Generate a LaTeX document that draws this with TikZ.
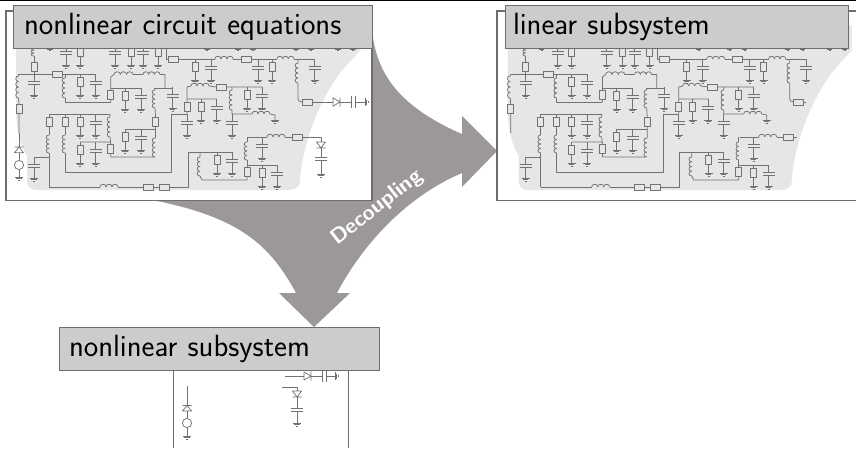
\documentclass[tikz,border=0pt]{standalone}
\definecolor{arrowc}{HTML}{9C9899}
\definecolor{blobc}{HTML}{E6E6E6}
\definecolor{titlec}{HTML}{CCCCCC}
\definecolor{linec}{HTML}{727272}
\definecolor{framec}{HTML}{6E6E6E}
\tikzset{
  w/.style={draw=linec,line width=0.75pt,line join=round},
  framest/.style={draw=framec,line width=1.5pt},
  titlest/.style={fill=titlec,draw=framec,line width=1pt,anchor=center,font=\sffamily\fontsize{30.7}{36}\selectfont,text=black,align=left,minimum height=43pt,inner sep=0pt,outer sep=0pt}
}
% wires-level elements, all in reference pixels
\newcommand{\cgnd}[2]{\draw[w] (#1-4,#2) -- (#1+4,#2) (#1-2.6,#2+1.6) -- (#1+2.6,#2+1.6) (#1-1,#2+3.2) -- (#1+1,#2+3.2);}
\newcommand{\cvres}[2]{\draw[w,fill=blobc] (#1-3,#2-4.7) rectangle (#1+3,#2+4.7);}
\newcommand{\chres}[2]{\draw[w,fill=blobc] (#1-5,#2-3) rectangle (#1+5,#2+3);}
\newcommand{\cplates}[2]{\draw[w] (#1-6,#2-1.5) -- (#1+6,#2-1.5) (#1-6,#2+1.5) -- (#1+6,#2+1.5);}
\newcommand{\resg}[2]{\draw[w] (#1,#2) -- (#1,#2+21); \cvres{#1}{#2+8}\cgnd{#1}{#2+21}}
\newcommand{\capg}[2]{\draw[w] (#1,#2) -- (#1,#2+7) (#1,#2+10) -- (#1,#2+21); \cplates{#1}{#2+8.5}\cgnd{#1}{#2+21}}
% vertical inductor x, y1, y2
\newcommand{\vind}[3]{\pgfmathsetmacro{\hh}{(#3-#2)/4}
  \foreach \k in {0,1,2,3}{\draw[w] (#1,{#2+\k*\hh}) .. controls (#1-3.6,{#2+\k*\hh-0.5}) and (#1-3.6,{#2+(\k+1)*\hh+0.5}) .. (#1,{#2+(\k+1)*\hh});}}
% horizontal inductor x1, x2, y
\newcommand{\hind}[3]{\pgfmathsetmacro{\hh}{(#2-#1)/3}
  \foreach \k in {0,1,2}{\draw[w] ({#1+\k*\hh},#3) .. controls ({#1+\k*\hh-0.5},#3-3.6) and ({#1+(\k+1)*\hh+0.5},#3-3.6) .. ({#1+(\k+1)*\hh},#3);}}
\newcommand{\lincirc}{
  % top row
  \foreach \x in {50,207,238,253,296,311,338,353}{\draw[w] (\x,44) -- (\x,47.5); \cgnd{\x}{47.5}}
  \capg{66}{44}\resg{80}{44}\capg{115}{44}\resg{131}{44}\capg{143}{44}\resg{158}{44}
  % row at y=59
  \draw[w] (166,44) -- (166,59) -- (168,59) (178,59) -- (215,59) (233,59) -- (241,59) (251,59) -- (277,59) (294,59) -- (314.5,59);
  \chres{173}{59}\hind{215}{233}{59}\chres{246}{59}\hind{277}{294}{59}
  \resg{195}{59}\capg{211}{59}\capg{258}{59}\resg{272}{59}\capg{314.5}{59}
  \draw[w] (298,59) -- (298,63) (298,83) -- (298,99) -- (299,101) -- (302,102);
  \vind{298}{63}{83}\chres{307}{102}
  % left top
  \vind{34}{44}{56}\draw[w] (34,56) -- (34,74);\cvres{34}{67}
  \draw[w] (19,74) -- (52,74) (62,74) -- (95.5,74);
  \chres{57}{74}\capg{34}{74}\resg{80}{74}\capg{95.5}{74}
  \draw[w] (18.5,74) -- (18.5,76) (18.5,98) -- (19,104) (19,114) -- (19,133);
  \vind{18.5}{76}{98}\cvres{19}{109}
  \draw[w] (65,74) -- (65,78) (65,98) -- (65,102) -- (110.7,102);
  \vind{65}{78}{98}
  % inductors y=74
  \draw[w] (110.7,102) -- (110.7,77) -- (114,74.5) (133,74.5) -- (143,74.5) (160,74.5) -- (165,74.5) -- (165,88);
  \hind{114}{133}{74.5}\hind{143}{160}{74.5}
  \cvres{110.7}{95}
  \draw[w] (110.7,88) -- (141,88) (154,88) -- (172.7,88);
  \resg{125}{88}\capg{141}{88}\capg{172.7}{87}
  \draw[w] (155,88) -- (155,90) (155,108) -- (155.5,117) (155.5,127) -- (155.5,138) (155,157) -- (110.7,157) -- (110.7,154);
  \vind{155}{90}{108}\cvres{155.5}{122}\vind{155}{138}{157}
  \draw[w] (125,129) -- (155.5,129);
  \resg{125}{129}\capg{141}{129}
  % block y=114
  \draw[w] (49,114) -- (110,114);
  \draw[w] (49,114) -- (49,135) (49,153) -- (49,187);
  \cvres{49}{122}\vind{49}{135}{153}
  \draw[w] (65,114) -- (65,135) (65,153) -- (65,172) -- (171.7,172) -- (171.7,114) -- (187,114);
  \cvres{65}{122}\vind{65}{135}{153}
  \resg{80}{114}\capg{95.7}{114}
  \draw[w] (110,114) -- (110,117) (110,137) -- (110.7,144) (80,142) -- (110.5,142);
  \vind{110}{117}{137}
  \cvres{110.7}{149}
  \resg{80}{142}\capg{95.7}{142}
  \draw[w] (34,157) -- (49,157);
  \capg{34}{157}
  % bottom wire
  \draw[w] (49,187) -- (100,187) (118,187) -- (143,187) (153,187) -- (159,187) (169,187) -- (188,187) -- (188,152) -- (232,152);
  \hind{100}{118}{187}\chres{148}{187}\chres{164}{187}
  \draw[w] (200,152) -- (200,157) (200,176) -- (202,180) -- (247,180) -- (247,177);
  \vind{200}{157}{176}
  \resg{217}{152}\capg{232}{152}
  % lower right
  \draw[w] (247,137) -- (247,142) (247,160) -- (247,167) (248,137) -- (267,137) (285,137) -- (292,137) (247,165) -- (277,165);
  \vind{247}{142}{160}\cvres{247}{172}
  \hind{267}{285}{137}\chres{297}{137}
  \capg{262}{137}\resg{262}{165}\capg{277}{165}
  % second row right
  \draw[w] (187,114) -- (187,87) -- (191,86) (209,86) -- (216,87) (226,87) -- (262,87) (187,99) -- (216.7,99);
  \hind{191}{209}{86}\chres{221}{87}\cvres{187}{107}
  \capg{187}{114}
  \resg{247}{87}\capg{262}{87}\resg{201}{99}\capg{216.7}{99}
  \draw[w] (232,87) -- (232,90) (232,110) -- (232,114) -- (252,114) (270,114) -- (275,115) -- (275,120);
  \vind{232}{90}{110}\hind{252}{270}{114}\cgnd{275}{120}
  \capg{232}{114}
}
\begin{document}
\begin{tikzpicture}[x=1pt,y=-1pt]
\useasboundingbox (0,0) rectangle (856,448);
\fill[white] (0,0) rectangle (856,448);
\fill[black] (0,0) rectangle (856,1.2);
% big arrow
\fill[arrowc] (372,30) .. controls (376,70) and (395,105) .. (462,134) -- (462,116) -- (497,151) -- (462,187) -- (462,173) .. controls (410,195) and (365,240) .. (337,293) -- (350,293) -- (314,327) -- (279,293) -- (296,293) .. controls (270,245) and (240,218) .. (157,201) -- (200,100) -- cycle;
\node[rotate=38,text=white,font=\sffamily\bfseries\fontsize{21.5}{25}\selectfont,inner sep=0pt] (dec) at (377,208) {Decoupling};
% left panel
\draw[framest,fill=white] (6,11) rectangle (372,200.5);
\fill[blobc] (16,25) -- (16,105) .. controls (16,125) and (18,140) .. (27,156) -- (27,180) .. controls (27,187) and (30,190) .. (38,190) -- (285,190) .. controls (296,190) and (300,188) .. (300,180) .. controls (302,150) and (315,110) .. (335,80) .. controls (342,69) and (352,60) .. (360,50) -- (360,25) -- cycle;
\lincirc
\draw[w] (19,133) -- (19,147) (19,152.7) -- (19,160.5) (19,169.5) -- (19,177);
\draw[w] (14.5,147) -- (23.5,147) (19,147) -- (14.5,152.7) -- (23.5,152.7) -- cycle;
\draw[w] (19,165) circle[radius=4.6pt];
\cgnd{19}{177}
\draw[w] (312,102) -- (333,102) (340,102) -- (351.7,102) (355.7,102) -- (365,102);
\draw[w] (333,97.8) -- (333,106.2) -- (340,102) -- cycle (340,97.5) -- (340,106.5);
\draw[w] (351.7,96) -- (351.7,108) (355.7,96) -- (355.7,108);
\draw[w] (365,98) -- (365,106) (366.6,99.5) -- (366.6,104.5) (368,101) -- (368,103);
\draw[w] (302,137) -- (321,137) -- (321,142) (321,148) -- (321,157.5) (321,160.5) -- (321,174);
\draw[w] (316.5,142) -- (325.5,142) -- (321,148) -- cycle (316.5,148) -- (325.5,148);
\cplates{321}{159}\cgnd{321}{174}
\node[titlest,text width=338pt,minimum width=359pt,xshift=0.5pt] (t1) at (192.5,26.5) {nonlinear circuit equations};
% right panel
\draw[framest] (856,11) -- (497,11) -- (497,200.5) -- (856,200.5);
\begin{scope}[xshift=491.7pt]
\fill[blobc] (16,25) -- (16,105) .. controls (16,125) and (18,140) .. (27,156) -- (27,180) .. controls (27,187) and (30,190) .. (38,190) -- (285,190) .. controls (296,190) and (300,188) .. (300,180) .. controls (302,150) and (315,110) .. (335,80) .. controls (342,69) and (352,60) .. (360,50) -- (360,25) -- cycle;
\lincirc
\draw[w] (312,102) -- (314,102) (302,137) -- (305,137);
\end{scope}
\node[titlest,text width=327pt,minimum width=343pt] (t2) at (676.5,26.5) {linear subsystem};
% bottom panel
\draw[draw=framec,line width=1pt] (173,370) -- (173,448) (348,370) -- (348,448);
\draw[w] (187,386) -- (187,405.5) (187,411) -- (187,418.5) (187,427.5) -- (187,436);
\draw[w] (182.5,405.5) -- (191.5,405.5) (187,405.5) -- (182.5,411) -- (191.5,411) -- cycle;
\draw[w] (187,423) circle[radius=4.6pt];
\cgnd{187}{436}
\draw[w] (285,376) -- (304,376) (311,376) -- (322,376) (326,376) -- (335,376);
\draw[w] (304,372) -- (304,380) -- (311,376) -- cycle (311,371.5) -- (311,380.5);
\draw[w] (322,370) -- (322,382) (326,370) -- (326,382);
\draw[w] (335,372) -- (335,380) (336.6,373.5) -- (336.6,378.5) (338,375) -- (338,377);
\draw[w] (282,387) -- (297,387) -- (297,391) (297,397) -- (297,408.5) (297,411.5) -- (297,423);
\draw[w] (292.5,391) -- (301.5,391) -- (297,397) -- cycle (292.5,397) -- (301.5,397);
\cplates{297}{410}\cgnd{297}{423}
\node[titlest,text width=300pt,minimum width=320pt] (t3) at (219,348.5) {nonlinear subsystem};
\end{tikzpicture}
\end{document}
